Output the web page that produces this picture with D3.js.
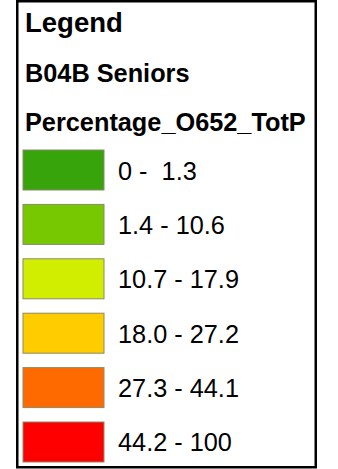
<!DOCTYPE html>
<html>
<head>
<meta charset="utf-8">
<script src="https://cdn.jsdelivr.net/npm/d3@7"></script>
<style>
  html, body { margin: 0; padding: 0; background: #fff; }
  svg { display: block; }
  text { font-family: "Liberation Sans", Arial, Helvetica, sans-serif; fill: #000; white-space: pre; }
</style>
</head>
<body>
<svg id="chart" width="338" height="469"></svg>
<script>
const titles = ["Legend", "B04B Seniors", "Percentage_O652_TotP"];
const classLabels = ["0 -  1.3", "1.4 - 10.6", "10.7 - 17.9", "18.0 - 27.2", "27.3 - 44.1", "44.2 - 100"];
const classColors = ["#38a40b", "#78c800", "#d2ee00", "#ffcc00", "#ff6a00", "#ff0000"];

const svg = d3.select("#chart");

svg.append("rect")
  .attr("x", 17.25).attr("y", 1.25)
  .attr("width", 298.5).attr("height", 466)
  .attr("fill", "#fff").attr("stroke", "#000").attr("stroke-width", 2.5);

const titleY = d3.scalePoint().domain(titles).range([32, 131]);
svg.selectAll("text.title").data(titles).enter().append("text")
  .attr("class", "title")
  .attr("x", 25)
  .attr("y", d => titleY(d))
  .attr("font-weight", "bold")
  .attr("font-size", (d, i) => i === 0 ? 27.5 : 25.3)
  .text(d => d);

const y = d3.scaleBand().domain(classLabels).range([150, 462]).paddingInner(0.2647);
const color = d3.scaleOrdinal().domain(classLabels).range(classColors);

const g = svg.selectAll("g.item").data(classLabels).enter().append("g").attr("class", "item");
g.append("rect")
  .attr("x", 23).attr("y", d => y(d))
  .attr("width", 81).attr("height", y.bandwidth())
  .attr("fill", d => color(d))
  .attr("stroke", "#8a8a6a").attr("stroke-width", 1);
g.append("text")
  .attr("x", 118)
  .attr("y", d => y(d) + y.bandwidth() / 2 + 9.5)
  .attr("font-size", 25.3)
  .text(d => d);
</script>
</body>
</html>
